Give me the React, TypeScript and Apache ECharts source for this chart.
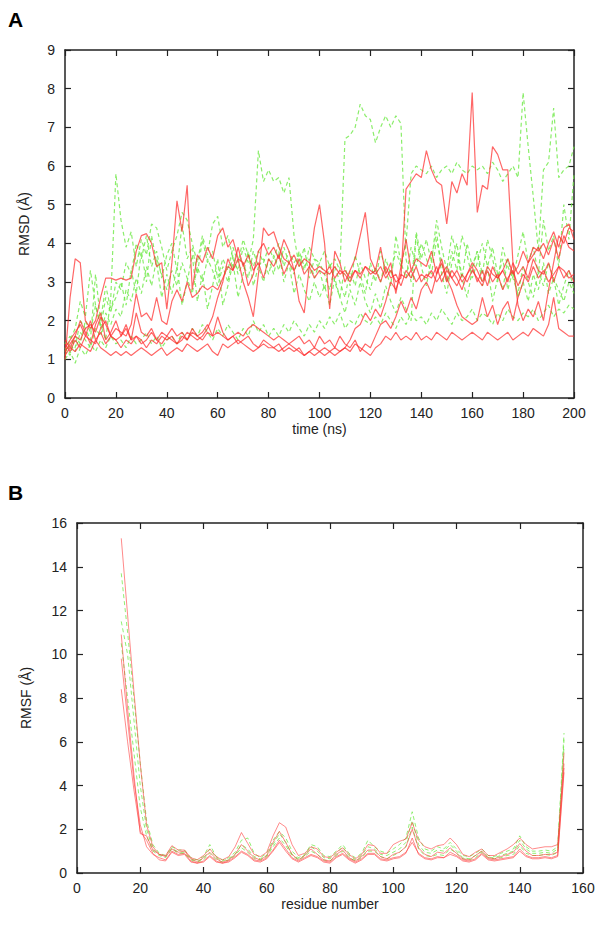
import React, { useEffect, useRef } from "react";
import * as echarts from "echarts";

// ---------- Panel A: RMSD vs time (ns), sampled every 2 ns ----------
const timeNs: number[] = Array.from({ length: 101 }, (_, i) => i * 2);

const rmsdRed1 = [
  1.1, 1.3, 1.2, 1.4, 1.3, 1.2, 1.5, 1.3, 1.2, 1.1, 1.2,
  1.1, 1.2, 1.1, 1.2, 1.3, 1.2, 1.1, 1.2, 1.3, 1.1,
  1.2, 1.3, 1.2, 1.4, 1.3, 1.2, 1.3, 1.4, 1.2, 1.1,
  1.4, 1.3, 1.4, 1.5, 1.4, 1.3, 1.2, 1.3, 1.4, 1.3,
  1.3, 1.2, 1.3, 1.4, 1.3, 1.2, 1.1, 1.2, 1.1, 1.2,
  1.3, 1.2, 1.1, 1.2, 1.3, 1.2, 1.4, 1.3, 1.2, 1.1,
  1.3, 1.4, 1.6, 1.5, 1.7, 1.5, 1.6, 1.5, 1.7, 1.5,
  1.6, 1.5, 1.7, 1.6, 1.5, 1.7, 1.6, 1.5, 1.6, 1.7,
  1.6, 1.5, 1.7, 1.6, 1.5, 1.6, 1.7, 1.5, 1.6, 1.7,
  1.6, 1.8, 1.7, 1.6, 1.9, 2.6, 1.8, 1.7, 1.6, 1.6,
];
const rmsdRed2 = [
  1.3, 1.5, 1.7, 1.9, 1.6, 1.5, 1.4, 1.8, 2.0, 1.6, 1.5,
  1.6, 1.9, 1.5, 1.6, 1.4, 1.5, 1.7, 1.5, 1.4, 1.6,
  1.5, 1.4, 1.6, 1.5, 1.7, 1.6, 1.5, 1.7, 1.6, 1.7,
  1.6, 1.5, 1.6, 1.7, 1.6, 1.8, 1.9, 1.8, 1.7, 1.6,
  1.5, 1.6, 1.5, 1.4, 1.5, 1.6, 1.4, 1.5, 1.3, 1.6,
  1.4, 1.5, 1.3, 1.6, 1.4, 1.3, 1.5, 1.2, 1.4, 1.3,
  1.6, 1.9, 2.0, 1.8, 2.1, 2.5, 2.2, 2.6, 2.3, 2.8,
  3.0, 2.7, 3.2, 3.5, 3.0, 3.3, 3.1, 2.8, 3.2, 3.4,
  3.0, 3.3, 2.9, 3.4, 3.1, 3.3, 3.0, 3.5, 3.2, 3.4,
  3.1, 3.6, 3.3, 3.2, 3.5, 3.0, 3.4, 3.3, 3.1, 3.2,
];
const rmsdRed3 = [
  1.0, 2.6, 3.6, 3.5, 2.0, 1.8, 2.0, 2.6, 3.1, 3.1, 3.05,
  3.1, 3.05, 3.1, 3.8, 4.2, 4.25, 4.0, 3.4, 3.5, 2.3,
  3.5, 5.1, 4.3, 5.5, 2.8, 3.7, 3.5, 3.9, 3.6, 4.2,
  4.4, 3.9, 4.1, 3.6, 3.0, 2.6, 2.1, 3.2, 4.4, 4.2,
  4.3, 3.9, 3.6, 3.5, 3.7, 3.4, 3.6, 3.5, 3.3, 3.4,
  3.3, 3.2, 3.4, 3.2, 3.3, 3.1, 3.3, 3.2, 3.4, 3.3,
  3.2, 3.4, 3.1, 3.3, 3.0, 3.1, 5.4, 5.6, 5.8, 5.7,
  6.4, 5.9, 5.6, 5.5, 4.5, 5.6, 5.3, 5.8, 5.5, 7.9,
  4.8, 5.5, 5.4, 6.5, 6.3, 5.9, 5.9, 3.5, 2.4, 2.0,
  2.3, 2.1, 2.5, 2.0, 2.8, 3.5, 4.2, 4.0, 4.4, 4.3,
];
const rmsdRed4 = [
  1.2, 1.4, 1.6, 1.5, 1.8, 1.9, 1.7, 2.1, 1.9, 1.6, 1.8,
  1.7, 1.6, 1.9, 2.7, 2.1, 2.2, 2.0, 2.6, 2.0, 1.9,
  2.5, 2.8, 2.5, 3.0, 2.6, 2.7, 2.9, 2.8, 2.9, 2.8,
  3.1, 3.4, 3.3, 3.6, 3.5, 2.9, 3.2, 3.8, 4.0, 3.7,
  3.9, 3.6, 4.1, 3.8, 3.3, 2.5, 2.2, 3.4, 4.4, 5.0,
  4.0, 2.3, 3.8, 3.5, 3.0, 3.3, 3.6, 4.2, 4.8, 3.6,
  3.3, 3.9, 3.2, 3.5, 2.7, 3.4, 4.1, 3.3, 3.6, 3.5,
  3.4, 3.8, 3.2, 3.6, 3.1, 2.8, 2.4, 2.1, 2.0, 1.9,
  2.0, 2.6, 2.1, 2.4, 1.9, 2.3, 2.5, 2.0, 2.6, 3.0,
  3.5, 3.7, 3.9, 3.6, 4.0, 4.3, 3.9, 4.4, 4.5, 4.1,
];
const rmsdRed5 = [
  1.5, 1.3, 1.6, 2.0, 1.7, 1.4, 1.9, 2.2, 1.5, 1.7, 2.0,
  1.6, 1.8, 1.5, 2.2, 1.7, 1.6, 1.8, 1.5, 1.7, 1.6,
  1.8, 1.6, 1.7, 1.5, 1.8, 1.6, 1.7, 1.9, 1.6, 2.1,
  1.7, 1.5, 1.6, 1.4, 1.5, 1.6, 1.4, 1.3, 1.5, 1.4,
  1.3, 1.4, 1.2, 1.3, 1.2, 1.3, 1.1, 1.2, 1.3, 1.2,
  1.1, 1.2, 1.3, 1.2, 1.3, 1.5, 1.8, 1.9, 2.2, 2.0,
  2.3, 2.1, 2.5, 3.0, 2.8, 3.2, 3.1, 3.3, 3.0, 3.2,
  3.1, 3.3, 3.0, 3.2, 3.4, 3.1, 3.3, 3.0, 3.2, 3.5,
  3.3, 3.0, 3.4, 3.2, 3.1, 3.3, 3.6, 3.2, 3.4, 3.8,
  3.5, 3.9, 3.8, 4.0, 3.7, 4.1, 3.6, 4.2, 3.9, 3.8,
];
const rmsdRed6 = [
  1.4, 1.2, 1.5, 1.3, 1.6, 2.0, 1.5, 1.7, 1.4, 1.6, 1.5,
  1.3, 1.5, 1.4, 1.6, 1.5, 1.3, 1.5, 1.4, 1.6, 1.5,
  1.6, 1.4, 1.5, 1.7, 1.6, 1.5, 1.6, 1.8, 2.1, 2.6,
  3.0, 3.6, 3.3, 3.9, 3.4, 3.7, 3.3, 3.5, 3.1, 3.6,
  3.4, 3.7, 3.2, 3.5, 3.3, 3.6, 3.2, 3.4, 3.1, 3.3,
  3.2, 3.4, 3.1, 3.3, 3.2, 3.0, 3.3, 3.1, 3.4, 3.2,
  3.3, 3.0, 3.4, 3.1, 3.2, 2.9, 3.3, 3.1, 3.4, 3.0,
  3.2, 3.1, 3.4, 3.0, 3.3, 3.1, 2.9, 3.2, 3.0, 3.3,
  3.1, 2.9, 3.3, 3.0, 3.2, 2.8, 3.1, 3.3, 2.9, 3.2,
  3.0, 3.4, 3.1, 3.3, 3.0, 3.2, 3.4, 3.1, 3.3, 3.0,
];

const rmsdGreen1 = [
  1.0, 1.2, 0.9, 1.3, 1.1, 1.4, 1.2, 1.5, 1.3, 1.6, 1.4,
  1.5, 1.3, 1.6, 1.4, 1.5, 1.7, 1.4, 1.6, 1.3, 1.5,
  1.6, 1.4, 1.7, 1.5, 1.8, 1.6, 1.9, 1.7, 1.5, 1.8,
  1.6, 1.9, 1.7, 1.5, 1.8, 1.6, 2.0, 1.7, 1.9, 1.6,
  1.8, 1.6, 1.9, 1.7, 2.0, 1.8, 1.6, 1.9, 1.7, 2.0,
  1.8, 2.1, 1.9, 2.2, 1.8, 2.0, 1.9, 2.2, 2.0, 1.9,
  2.1, 1.9, 2.2, 2.0, 1.8, 2.1, 1.9, 2.2, 2.0, 2.1,
  1.9, 2.2, 2.0, 2.3, 2.1, 1.9, 2.2, 2.0, 2.1, 2.3,
  2.0, 2.2, 2.1, 1.9, 2.2, 2.0, 2.3, 2.1, 2.0, 2.2,
  2.1, 2.3, 2.0, 2.2, 2.4, 2.1, 2.3, 2.2, 2.4, 2.3,
];
const rmsdGreen2 = [
  1.2, 1.5, 1.8, 2.5, 2.1, 3.3, 2.4, 1.8, 2.6, 2.2, 3.0,
  2.8, 3.5, 3.2, 4.0, 3.6, 4.2, 3.4, 3.8, 3.1, 3.7,
  4.0, 3.3, 4.5, 3.6, 3.9, 3.2, 4.1, 3.5, 3.8, 3.1,
  3.6, 3.3, 3.9, 3.5, 4.1, 3.7, 3.4, 3.8, 3.5, 3.9,
  3.6, 4.0, 3.4, 3.8, 3.5, 3.7, 3.3, 3.9, 3.6, 3.5,
  3.8, 3.4, 3.6, 3.3, 6.7, 6.8, 7.0, 7.6, 7.3, 7.2,
  6.6, 7.0, 7.3, 7.0, 7.3, 7.1, 3.6, 3.0, 4.2, 3.4,
  2.9, 3.6, 4.3, 3.2, 2.7, 3.5, 4.0, 3.1, 2.6, 3.3,
  3.8, 2.9, 3.4, 2.5, 3.1, 3.6, 2.8, 3.3, 2.6, 3.0,
  2.5, 3.2, 2.8, 3.5, 2.7, 3.1, 2.4, 2.9, 3.3, 2.8,
];
const rmsdGreen3 = [
  1.3, 1.1, 1.6, 1.4, 2.0, 1.7, 2.4, 1.9, 1.5, 2.6, 5.8,
  4.6, 3.9, 4.3, 3.4, 4.1, 3.7, 4.5, 4.4, 3.9, 3.3,
  3.8, 4.2, 4.8, 4.6, 4.0, 3.5, 4.2, 3.7, 4.5, 4.7,
  3.9, 4.2, 3.6, 3.3, 3.9, 3.5, 4.1, 6.4, 5.6, 5.9,
  5.6, 5.7, 5.3, 5.7, 4.2, 3.4, 3.9, 3.1, 3.6, 3.3,
  2.8, 3.5, 3.0, 2.6, 3.4, 2.9, 3.7, 3.2, 2.7, 3.5,
  3.0, 3.8, 3.3, 2.9, 4.2, 3.5, 3.1, 3.9, 3.4, 4.0,
  3.6, 3.2, 4.1, 3.5, 3.0, 3.8, 3.3, 4.2, 3.7, 3.1,
  3.5, 4.0, 3.4, 3.9, 3.2, 2.8, 3.6, 3.1, 2.7, 3.4,
  3.0, 2.6, 3.3, 2.9, 3.5, 3.1, 2.8, 2.5, 3.0, 2.7,
];
const rmsdGreen4 = [
  1.1, 1.4, 1.2, 1.7, 1.5, 1.3, 1.8, 1.6, 2.2, 1.9, 2.3,
  2.1, 2.8, 2.5, 3.1, 2.7, 3.4, 2.9, 3.6, 3.2, 2.8,
  3.3, 2.9, 3.5, 3.1, 2.7, 3.4, 3.0, 3.6, 3.3, 2.9,
  3.4, 3.0, 3.7, 3.2, 3.5, 3.1, 3.8, 3.4, 3.6, 3.2,
  3.7, 3.3, 3.9, 3.5, 3.2, 3.8, 3.4, 3.6, 3.1, 3.5,
  3.2, 2.8, 3.4, 3.0, 2.6, 3.3, 2.9, 3.5, 3.1, 2.8,
  3.4, 3.0, 3.6, 3.2, 3.8, 3.4, 4.0, 5.8, 6.0, 5.9,
  5.8, 6.0, 5.7, 5.9, 6.0, 5.8, 6.1, 5.9, 5.8, 6.0,
  5.9, 6.0, 5.8, 6.1, 5.9, 5.6, 5.8, 6.0, 5.7, 7.9,
  6.5, 5.2, 3.8, 5.9, 6.1, 7.5, 5.7, 5.9, 6.0, 6.5,
];
const rmsdGreen5 = [
  1.4, 1.6, 1.3, 2.0, 1.8, 1.5, 3.2, 2.0, 2.9, 2.3, 2.6,
  3.0, 2.4, 3.3, 2.7, 3.8, 3.0, 4.2, 3.5, 2.6, 3.2,
  2.7, 3.4, 2.4, 3.0, 3.7, 2.5, 3.2, 2.3, 2.9, 3.6,
  2.4, 2.9, 3.5, 2.6, 3.2, 3.8, 2.9, 3.4, 3.0, 3.6,
  3.2, 3.8, 3.0, 3.5, 2.7, 3.2, 2.8, 2.5, 3.0, 2.6,
  2.9, 2.4, 3.1, 2.6, 2.2, 2.8, 2.4, 3.0, 2.5, 2.2,
  2.7, 2.3, 2.9, 2.5, 2.2, 2.6, 2.3, 2.0, 4.3, 3.6,
  4.1, 3.5, 4.6, 3.9, 3.3, 4.2, 3.7, 3.1, 4.0, 3.4,
  3.8, 3.2, 4.1, 3.6, 3.0, 3.9, 3.4, 3.1, 3.7, 4.3,
  3.5, 3.9, 3.2, 4.6, 3.8, 4.2, 3.4, 5.0, 4.1, 5.8,
];

// ---------- Panel B: RMSF vs residue number, every 2nd residue 14..154 ----------
const residues: number[] = Array.from({ length: 71 }, (_, i) => 14 + i * 2);

const rmsfRed1 = [
  15.3, 11.8, 8.3, 5.0, 2.2, 1.2, 0.85, 0.75, 1.1, 0.95,
  1.0, 0.65, 0.5, 0.7, 0.95, 0.65, 0.5, 0.6, 0.85, 1.3,
  1.0, 0.7, 0.6, 0.8, 1.4, 1.9, 1.4, 0.85, 0.6, 0.8,
  1.1, 0.85, 0.6, 0.55, 0.85, 1.05, 0.7, 0.55, 0.75, 1.05,
  1.05, 0.75, 0.65, 0.85, 0.95, 1.2, 2.0, 1.15, 0.85, 0.75,
  0.95, 0.9, 1.15, 0.9, 0.65, 0.6, 0.8, 1.0, 0.7, 0.65,
  0.75, 0.85, 0.95, 1.35, 1.0, 0.8, 0.8, 0.85, 0.85, 0.95,
  5.5,
];
const rmsfRed2 = [
  10.9, 7.5, 4.5, 1.8, 1.7, 1.05, 0.85, 0.8, 1.25, 1.05,
  1.05, 0.7, 0.6, 0.8, 1.1, 0.75, 0.6, 0.75, 1.2, 1.85,
  1.35, 0.85, 0.75, 0.95, 1.7, 2.3, 2.1, 1.3, 0.8, 0.9,
  1.2, 1.1, 0.75, 0.7, 0.95, 1.15, 0.85, 0.65, 0.85, 1.3,
  1.25, 0.9, 0.9, 1.3, 1.45, 1.55, 2.3, 1.5, 1.2, 1.1,
  1.25, 1.3, 1.6, 1.3, 0.85, 0.75, 0.95, 1.1, 0.8, 0.8,
  0.95, 1.1, 1.3, 1.6, 1.3, 1.1, 1.15, 1.2, 1.2, 1.3,
  5.0,
];
const rmsfRed3 = [
  9.8, 7.0, 4.2, 2.2, 1.2, 0.85, 0.7, 0.6, 1.0, 0.85,
  0.9, 0.55, 0.45, 0.55, 0.8, 0.55, 0.45, 0.55, 0.75, 1.0,
  0.85, 0.6, 0.55, 0.7, 1.05, 1.5, 1.1, 0.7, 0.55, 0.7,
  0.85, 0.75, 0.55, 0.5, 0.75, 0.9, 0.65, 0.5, 0.65, 0.9,
  0.9, 0.65, 0.6, 0.7, 0.75, 0.95, 1.4, 0.9, 0.7, 0.65,
  0.75, 0.7, 0.95, 0.8, 0.6, 0.55, 0.65, 0.9, 0.65, 0.6,
  0.65, 0.7, 0.75, 1.1, 0.8, 0.7, 0.7, 0.75, 0.7, 0.8,
  4.8,
];
const rmsfRed4 = [
  8.4, 6.0, 3.8, 1.9, 1.5, 0.9, 0.6, 0.55, 0.95, 0.8,
  0.85, 0.5, 0.45, 0.5, 0.75, 0.5, 0.45, 0.5, 0.7, 0.95,
  0.8, 0.55, 0.5, 0.65, 1.0, 1.4, 1.0, 0.65, 0.5, 0.65,
  0.8, 0.7, 0.5, 0.45, 0.7, 0.85, 0.6, 0.45, 0.6, 0.85,
  0.85, 0.6, 0.55, 0.65, 0.7, 0.9, 1.6, 0.85, 0.65, 0.6,
  0.7, 0.7, 0.85, 0.75, 0.55, 0.5, 0.6, 0.85, 0.6, 0.55,
  0.6, 0.65, 0.7, 1.0, 0.75, 0.65, 0.65, 0.7, 0.65, 0.75,
  4.6,
];
const rmsfGreen1 = [
  13.7, 11.0, 8.0, 5.0, 2.4, 1.3, 0.9, 0.8, 1.2, 1.05,
  1.05, 0.7, 0.6, 0.75, 1.3, 0.75, 0.6, 0.7, 0.95, 1.5,
  1.6, 0.9, 0.7, 0.9, 1.5, 1.9, 1.6, 1.0, 0.7, 0.85,
  1.3, 1.2, 0.8, 0.75, 1.0, 1.3, 0.9, 0.7, 0.9, 1.5,
  1.2, 1.0, 0.9, 1.1, 1.3, 1.6, 2.8, 1.6, 1.1, 1.0,
  1.2, 1.1, 1.4, 1.1, 0.8, 0.75, 0.9, 1.1, 0.8, 0.75,
  0.9, 1.0, 1.1, 1.7, 1.2, 1.0, 1.0, 1.05, 1.0, 1.2,
  6.4,
];
const rmsfGreen2 = [
  11.5, 10.0, 7.0, 4.0, 2.0, 1.1, 0.85, 0.75, 1.15, 0.95,
  0.95, 0.65, 0.55, 0.65, 1.1, 0.7, 0.55, 0.65, 0.85, 1.3,
  1.1, 0.75, 0.65, 0.8, 1.3, 1.8, 1.4, 0.85, 0.65, 0.8,
  1.2, 1.0, 0.7, 0.65, 0.9, 1.2, 0.8, 0.6, 0.8, 1.2,
  1.1, 0.85, 0.8, 0.95, 1.1, 1.4, 2.4, 1.3, 0.95, 0.9,
  1.05, 1.0, 1.3, 1.0, 0.7, 0.65, 0.8, 1.0, 0.7, 0.7,
  0.8, 0.9, 1.0, 1.5, 1.1, 0.9, 0.9, 0.95, 0.9, 1.1,
  6.1,
];
const rmsfGreen3 = [
  10.5, 8.0, 5.5, 3.0, 1.7, 1.0, 0.8, 0.7, 1.1, 0.9,
  0.9, 0.6, 0.5, 0.6, 0.9, 0.6, 0.5, 0.6, 0.8, 1.15,
  0.95, 0.65, 0.6, 0.75, 1.2, 1.6, 1.25, 0.8, 0.6, 0.75,
  1.0, 0.85, 0.6, 0.55, 0.8, 1.0, 0.7, 0.55, 0.7, 1.0,
  1.0, 0.75, 0.65, 0.8, 0.95, 1.2, 2.1, 1.1, 0.8, 0.75,
  0.85, 0.8, 1.1, 0.9, 0.65, 0.6, 0.7, 0.95, 0.7, 0.65,
  0.7, 0.8, 0.85, 1.25, 0.9, 0.8, 0.8, 0.85, 0.8, 0.95,
  5.8,
];

const rmsdGreens = [rmsdGreen1, rmsdGreen2, rmsdGreen3, rmsdGreen4, rmsdGreen5];
const rmsdReds = [rmsdRed1, rmsdRed2, rmsdRed3, rmsdRed4, rmsdRed5, rmsdRed6];
const rmsfGreens = [rmsfGreen1, rmsfGreen2, rmsfGreen3];
const rmsfReds = [rmsfRed1, rmsfRed2, rmsfRed3, rmsfRed4];

const xTicksA = { min: 0, max: 200, interval: 20 };
const yTicksA = { min: 0, max: 9, interval: 1 };
const xTicksB = { min: 0, max: 160, interval: 20 };
const yTicksB = { min: 0, max: 16, interval: 2 };

const FONT = "'Liberation Sans', Arial, Helvetica, sans-serif";
const INK = "#222";
const RED = "rgba(255, 45, 45, 0.72)";
const GREEN = "rgba(110, 232, 70, 0.8)";
const RED_B = "rgba(255, 60, 60, 0.6)";
const GREEN_B = "rgba(110, 232, 70, 0.75)";

const axisLine = { show: true, onZero: false, lineStyle: { color: INK, width: 1.5 } };
const axisTick = { show: true, inside: true, length: 6, lineStyle: { color: INK, width: 1.2 } };

function mainX(gridIndex: number, ticks: any, name: string) {
  return {
    type: "value", gridIndex, position: "bottom", ...ticks,
    name, nameLocation: "middle", nameGap: 24,
    nameTextStyle: { color: INK, fontSize: 14, fontFamily: FONT },
    axisLine, axisTick,
    axisLabel: { color: INK, fontSize: 14, fontFamily: FONT, margin: 8 },
    splitLine: { show: false },
  };
}
function mirrorX(gridIndex: number, ticks: any) {
  return {
    type: "value", gridIndex, position: "top", ...ticks,
    axisLine, axisTick, axisLabel: { show: false }, splitLine: { show: false },
  };
}
function mainY(gridIndex: number, ticks: any, name: string, gap: number) {
  return {
    type: "value", gridIndex, position: "left", ...ticks,
    name, nameLocation: "middle", nameGap: gap, nameRotate: 90,
    nameTextStyle: { color: INK, fontSize: 14, fontFamily: FONT },
    axisLine, axisTick,
    axisLabel: { color: INK, fontSize: 14, fontFamily: FONT, margin: 10 },
    splitLine: { show: false },
  };
}
function mirrorY(gridIndex: number, ticks: any) {
  return {
    type: "value", gridIndex, position: "right", ...ticks,
    axisLine, axisTick, axisLabel: { show: false }, splitLine: { show: false },
  };
}

function lineSeries(xs: number[], ys: number[], axis: number, color: string, dashed: boolean, width: number) {
  return {
    type: "line",
    xAxisIndex: axis,
    yAxisIndex: axis,
    data: ys.map((v, i) => [xs[i], v]),
    showSymbol: false,
    symbol: "none",
    silent: true,
    lineStyle: { color, width, type: dashed ? [4, 3] : "solid" },
  };
}

export default function App() {
  const ref = useRef<HTMLDivElement>(null);
  useEffect(() => {
    document.body.style.margin = "0";
    const chart = echarts.init(ref.current!, null, { renderer: "svg" });
    const series: any[] = [];
    rmsdGreens.forEach((d) => series.push(lineSeries(timeNs, d, 0, GREEN, true, 1.2)));
    rmsdReds.forEach((d) => series.push(lineSeries(timeNs, d, 0, RED, false, 1.2)));
    rmsfGreens.forEach((d) => series.push(lineSeries(residues, d, 2, GREEN_B, true, 1)));
    rmsfReds.forEach((d) => series.push(lineSeries(residues, d, 2, RED_B, false, 1)));

    chart.setOption({
      animation: false,
      backgroundColor: "#ffffff",
      grid: [
        { left: 65, top: 50, width: 509, height: 348 },
        { left: 77, top: 523, width: 506, height: 350 },
      ],
      xAxis: [
        mainX(0, xTicksA, "time (ns)"),
        mirrorX(0, xTicksA),
        mainX(1, xTicksB, "residue number"),
        mirrorX(1, xTicksB),
      ],
      yAxis: [
        mainY(0, yTicksA, "RMSD (Å)", 34),
        mirrorY(0, yTicksA),
        mainY(1, yTicksB, "RMSF (Å)", 44),
        mirrorY(1, yTicksB),
      ],
      series,
      graphic: [
        { type: "text", left: 8, top: 9, style: { text: "A", fontSize: 21, fontWeight: "bold", fontFamily: FONT, fill: "#000" } },
        { type: "text", left: 8, top: 482, style: { text: "B", fontSize: 21, fontWeight: "bold", fontFamily: FONT, fill: "#000" } },
      ],
    });
    return () => chart.dispose();
  }, []);
  return <div ref={ref} style={{ width: 604, height: 931 }} />;
}
